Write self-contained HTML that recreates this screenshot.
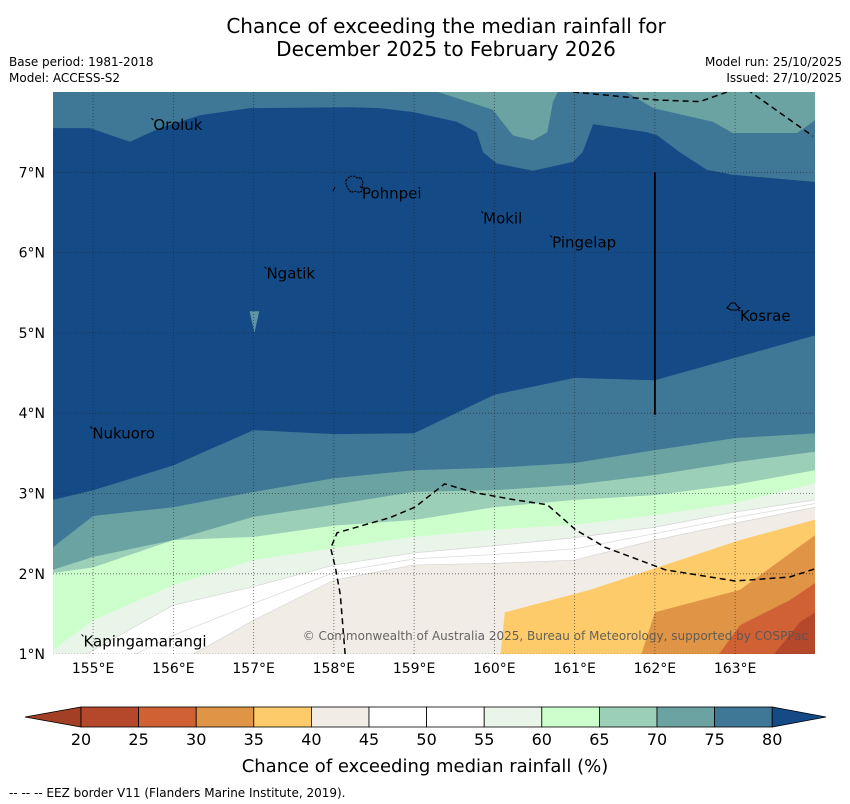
<!DOCTYPE html>
<html><head><meta charset="utf-8">
<style>
html,body{margin:0;padding:0;background:#fff;}
svg{display:block;font-family:"DejaVu Sans","Liberation Sans",sans-serif;}
</style></head>
<body>
<svg id="chart" width="850" height="804" viewBox="0 0 850 804" xmlns="http://www.w3.org/2000/svg">
  <text x="446" y="33" font-size="20" text-anchor="middle">Chance of exceeding the median rainfall for</text>
  <text x="446" y="56" font-size="20" text-anchor="middle">December 2025 to February 2026</text>
  <text x="9" y="66" font-size="12">Base period: 1981-2018</text>
  <text x="9" y="82" font-size="12">Model: ACCESS-S2</text>
  <text x="842" y="66" font-size="12" text-anchor="end">Model run: 25/10/2025</text>
  <text x="842" y="82" font-size="12" text-anchor="end">Issued: 27/10/2025</text>
  <defs><clipPath id="mapclip"><rect x="53" y="92" width="762" height="562"/></clipPath></defs>
  <g id="map" clip-path="url(#mapclip)"></g>
  <g id="overlay"></g>
  <g id="axes"></g>
  <g id="colorbar"></g>
  <text x="425" y="772" font-size="18" text-anchor="middle">Chance of exceeding median rainfall (%)</text>
  <text x="9" y="797" font-size="12">--  --  -- EEZ border V11 (Flanders Marine Institute, 2019).</text>
</svg>
<script>
// ---- data ----
const levels = [20,25,30,35,40,45,50,55,60,65,70,75,80];
const binColors = ["#b5472b","#cf6135","#e09445","#fecb6a","#f1ece6","#ffffff","#ffffff","#eaf5e9","#ccffcc","#9ccfb8","#6ba3a3","#3f7896"];
const lowColor = "#a33f24";
const highColor = "#144b87";
const lonTicks = [155,156,157,158,159,160,161,162,163];
const latTicks = [1,2,3,4,5,6,7];
const gridLons = [154.5,155,156,157,158,159,160,161,162,163,164];
// southern contour lines (latitude at each gridLon)
const south80 = [2.92,3.04,3.35,3.79,3.74,3.75,4.23,4.44,4.41,4.69,4.97];
const south75 = [2.33,2.72,2.83,3.02,3.19,3.29,3.32,3.38,3.54,3.69,3.75];
const south70 = [2.05,2.21,2.42,2.71,2.86,3.02,3.04,3.11,3.23,3.39,3.52];
const south65 = [2.01,2.08,2.42,2.46,2.60,2.67,2.83,2.92,2.98,3.11,3.29];
const south60 = [1.05,1.42,1.86,2.17,2.32,2.46,2.55,2.61,2.73,2.88,3.13];
const south55 = [0.68,1.05,1.61,1.84,2.11,2.26,2.35,2.45,2.58,2.77,2.92];
const south45 = [0.18,0.43,0.86,1.42,1.92,2.11,2.13,2.17,2.42,2.63,2.83];
const line40 = [[160.07,0.93],[160.13,1.52],[161.19,1.80],[163.06,2.42],[164.05,2.69]];
const line35 = [[161.81,0.93],[162.0,1.52],[163.06,1.80],[164.05,2.52]];
const line30 = [[162.75,0.93],[163.06,1.36],[163.68,1.67],[164.05,1.92]];
const line25 = [[163.43,0.93],[163.81,1.40],[164.05,1.55]];
const north80 = [[154.5,7.55],[154.96,7.55],[155.46,7.38],[155.83,7.55],[156.33,7.71],[156.95,7.80],[158.2,7.81],[158.57,7.80],[158.99,7.75],[159.53,7.63],[159.78,7.50],[159.86,7.25],[160.03,7.11],[160.48,7.02],[160.98,7.13],[161.10,7.25],[161.23,7.60],[161.90,7.50],[162.03,7.46],[162.31,7.25],[162.65,7.03],[162.97,6.97],[164.0,6.88]];
const north75a = [[158.99,8.1],[159.98,7.78],[160.23,7.46],[160.48,7.40],[160.66,7.50],[160.73,7.88],[160.84,8.1]];
const north75b = [[161.48,8.1],[161.98,7.80],[162.72,7.63],[162.97,7.49],[163.77,7.49],[164.0,7.65],[164.1,8.1]];
const eezTop1 = [[160.98,8.0],[162.03,7.90],[162.56,7.88],[162.90,8.0]];
const eezTop2 = [[163.15,8.03],[163.97,7.45]];
const eezBottom = [[158.14,1.0],[158.08,1.74],[158.02,2.07],[157.96,2.32],[158.04,2.51],[158.70,2.70],[159.01,2.83],[159.38,3.12],[159.76,3.01],[160.26,2.92],[160.66,2.86],[161.01,2.55],[161.38,2.33],[162.13,2.05],[163.0,1.91],[163.68,1.96],[164.05,2.08]];
const borderLine = [[162.0,7.0],[162.0,3.98]];
const islands = [
  {name:"Oroluk",lon:155.75,lat:7.60},
  {name:"Pohnpei",lon:158.35,lat:6.75},
  {name:"Mokil",lon:159.86,lat:6.44},
  {name:"Pingelap",lon:160.72,lat:6.14},
  {name:"Ngatik",lon:157.16,lat:5.75},
  {name:"Kosrae",lon:163.06,lat:5.22},
  {name:"Nukuoro",lon:154.99,lat:3.76},
  {name:"Kapingamarangi",lon:154.88,lat:1.17}
];
// ---- scales ----
const X = lon => 53 + (lon - 154.5) * 80.25;
const Y = lat => 92 + (8 - lat) * 80.3;
const NS = "http://www.w3.org/2000/svg";
function mk(tag, parent, attrs){ const e=document.createElementNS(NS,tag); for(const k in attrs) e.setAttribute(k,attrs[k]); parent.appendChild(e); return e; }
const map = document.getElementById('map');
const overlay = document.getElementById('overlay');
const axes = document.getElementById('axes');
const cb = document.getElementById('colorbar');
function pts(arr){ return arr.map(p=>X(p[0]).toFixed(1)+','+Y(p[1]).toFixed(1)).join(' '); }
function southPoly(lats){ const a = gridLons.map((l,i)=>[l,lats[i]]); return pts(a)+' '+X(164.2)+','+Y(0)+' '+X(154.3)+','+Y(0); }
function colorFor(level){ return binColors[levels.indexOf(level)-1]; }

const bg = mk('rect', map, {x:53,y:92,width:762,height:562,fill:highColor});



const southBands = [[80,south80],[75,south75],[70,south70],[65,south65],[60,south60],[55,south55],[45,south45]];
southBands.forEach(([lv,arr])=>{
  const p = mk('polygon', map, {points:southPoly(arr), fill:colorFor(lv), stroke: lv<=55?'#d8d8d8':'none', 'stroke-width':0.8});
  
  
});
const l50 = south55.map((v,i)=>(v+south45[i])/2);
const p50 = mk('polyline', map, {points:pts(gridLons.map((l,i)=>[l,l50[i]])), fill:'none', stroke:'#dcdcdc','stroke-width':0.8});



[[40,line40],[35,line35],[30,line30],[25,line25]].forEach(([lv,arr])=>{
  const p = mk('polygon', map, {points:pts(arr)+' '+X(164.2)+','+Y(0), fill:colorFor(lv)});
  
  
});
const n80 = mk('polygon', map, {points:pts(north80)+' '+X(164.2)+','+Y(8.2)+' '+X(154.3)+','+Y(8.2), fill:colorFor(80)});


[north75a,north75b].forEach((arr,i)=>{
  const p = mk('polygon', map, {points:pts(arr)+' '+X(164.2)+','+Y(8.2)+' '+X(arr[0][0])+','+Y(8.2), fill:colorFor(75)});
  
  
});
const wedge = mk('polygon', map, {points:`${X(156.95)},${Y(5.27)} ${X(157.07)},${Y(5.27)} ${X(157.01)},${Y(5.0)}`, fill:'#5f95a3'});



lonTicks.forEach(l=>{
  const g = mk('line', map, {x1:X(l),x2:X(l),y1:92,y2:654,stroke:'#222','stroke-width':0.8,'stroke-dasharray':'1,2','stroke-opacity':0.7});
  
  
});
latTicks.forEach(l=>{
  const g = mk('line', map, {x1:53,x2:815,y1:Y(l),y2:Y(l),stroke:'#222','stroke-width':0.8,'stroke-dasharray':'1,2','stroke-opacity':0.7});
  
  
});
[eezTop1,eezTop2,eezBottom].forEach((arr,i)=>{
  const e = mk('polyline', map, {points:pts(arr), fill:'none', stroke:'#000','stroke-width':1.5,'stroke-dasharray':'6,4'});
  
  
});
const bl = mk('polyline', map, {points:pts(borderLine), fill:'none', stroke:'#000','stroke-width':1.8});



const pohn = mk('path', overlay, {d:`M${X(158.15)},${Y(6.9)} l4,-4 l5,0 l3,2 l3,-1 l2,5 l-1,4 l2,3 l-4,3 l-5,-1 l-4,1 l-3,-4 l-2,-4 z`, fill:'none', stroke:'#000','stroke-width':1.2,'stroke-dasharray':'2,1'});


const pdot = mk('line', overlay, {x1:333,y1:191,x2:335,y2:187,stroke:'#000','stroke-width':1});


const kos = mk('path', overlay, {d:`M727,308 l4,-5 l4,0 l2,3 l3,2 l-3,2 l-6,0 z`, fill:'none', stroke:'#000','stroke-width':1.1});



islands.forEach(is=>{
  const x = X(is.lon), y = Y(is.lat);
  const m = mk('line', overlay, {x1:x-2,y1:y-6,x2:x,y2:y-4,stroke:'#000','stroke-width':1});
  
  
  const t = mk('text', overlay, {x:x, y:y+6, 'font-size':15, fill:'#000'});
  t.textContent = is.name;
  
  
});
const cr = mk('text', overlay, {x:808,y:640,'font-size':12,'text-anchor':'end',fill:'#555','fill-opacity':0.9});
cr.textContent = '© Commonwealth of Australia 2025, Bureau of Meteorology, supported by COSPPac';



lonTicks.forEach(l=>{
  const t = mk('text', axes, {x:X(l), y:673, 'font-size':14, 'text-anchor':'middle'});
  t.textContent = l+'°E';
  
  
});
latTicks.forEach(l=>{
  const t = mk('text', axes, {x:45, y:Y(l)+5, 'font-size':14, 'text-anchor':'end'});
  t.textContent = l+'°N';
  
  
});

const cbX0 = 81, cbW = 57.6, cbY = 707, cbH = 20;
const left = mk('polygon', cb, {points:`${cbX0},${cbY} ${cbX0},${cbY+cbH} 25,${cbY+cbH/2}`, fill:lowColor, stroke:'#000','stroke-width':0.8});


binColors.forEach((c,i)=>{
  const r = mk('rect', cb, {x:cbX0+i*cbW, y:cbY, width:cbW, height:cbH, fill:c, stroke:'#000','stroke-width':0.8});
  
  
});
const xEnd = cbX0 + binColors.length*cbW;
const right = mk('polygon', cb, {points:`${xEnd},${cbY} ${xEnd},${cbY+cbH} 826,${cbY+cbH/2}`, fill:highColor, stroke:'#000','stroke-width':0.8});


levels.forEach((lv,i)=>{
  const t = mk('text', cb, {x:cbX0+i*cbW, y:745, 'font-size':16, 'text-anchor':'middle'});
  t.textContent = lv;
  
  
});
</script>
</body></html>
